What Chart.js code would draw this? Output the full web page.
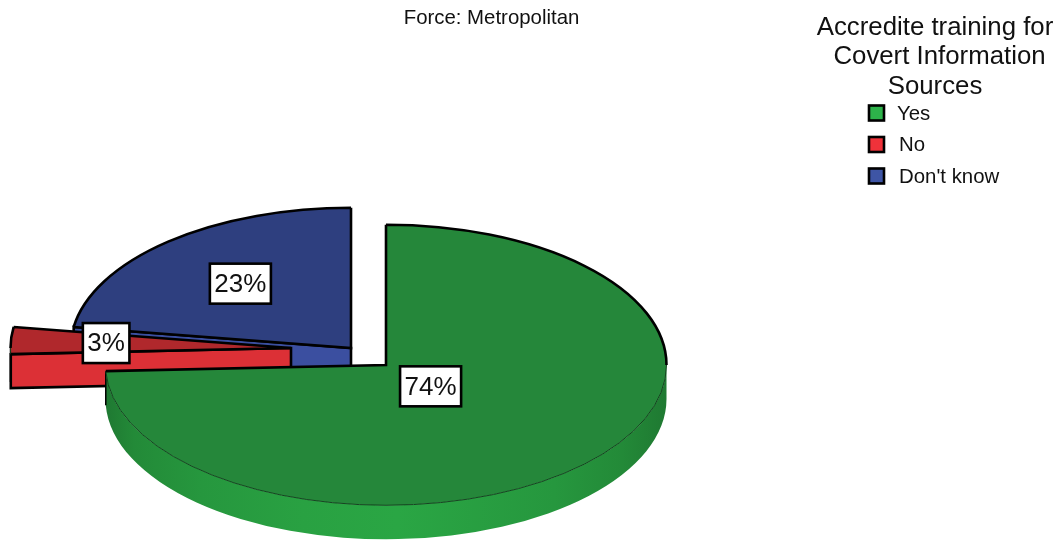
<!DOCTYPE html>
<html>
<head>
<meta charset="utf-8">
<title>Force: Metropolitan</title>
<script src="https://cdn.jsdelivr.net/npm/chart.js@4/dist/chart.umd.min.js"></script>
<style>
  html, body { margin: 0; padding: 0; background: #fff; }
  canvas { display: block; }
</style>
</head>
<body>
<canvas id="chart" width="1063" height="540"></canvas>
<script>
// values
const categories = ['Yes', 'No', "Don't know"];
const shares = [74.3, 3.1, 22.6];
const chartTitle = 'Force: Metropolitan';
const legendTitle = ['Accredite training for', 'Covert Information', 'Sources'];

// colours per slice
const legendColors = ['#2db34a', '#f0323a', '#3e55a5'];
const topColors = ['#25873a', '#b0282c', '#2e3f7f'];
const wallColors = ['#2aa644', '#dc3036', '#3b4fa0'];

// shading of the rim, left to right: [position, darkening of the wall colour]
const rimShade = [[0, 0.27], [0.05, 0.17], [0.17, 0.09], [0.35, 0.03], [0.52, 0], [0.8, 0.09], [0.92, 0.17], [1, 0.27]];

// how the slices are pulled apart and where the labels sit along the slice
const explodeX = [0, -95, -35];
const explodeY = [0, -17, -17];
const labelReach = [0.22, 0.66, 0.605];
const squash = 0.5;
const depth = 34;

const FONT = '"Liberation Sans", Arial, sans-serif';

function point(c, r, a) {
  return { x: c.x + r * Math.cos(a), y: c.y + r * squash * Math.sin(a) };
}

function darken(hex, amount) {
  const n = parseInt(hex.slice(1), 16);
  const f = 1 - amount;
  return 'rgb(' + Math.round((n >> 16) * f) + ',' + Math.round(((n >> 8) & 255) * f) + ',' + Math.round((n & 255) * f) + ')';
}

function drawSlice(ctx, arc, i) {
  const c = { x: arc.x + explodeX[i], y: arc.y + explodeY[i] };
  const r = arc.outerRadius;
  const a0 = arc.startAngle;
  const a1 = arc.endAngle;
  const p0 = point(c, r, a0);
  const p1 = point(c, r, a1);

  // outer wall, only the part below the horizontal axis shows
  const w0 = Math.max(a0, 0);
  const w1 = Math.min(a1, Math.PI);
  if (w1 > w0) {
    const left = point(c, r, w1).x;
    const right = point(c, r, w0).x;
    const g = ctx.createLinearGradient(left, 0, right, 0);
    rimShade.forEach(function (s) {
      g.addColorStop(s[0], darken(wallColors[i], s[1]));
    });
    ctx.beginPath();
    ctx.ellipse(c.x, c.y, r, r * squash, 0, w0, w1);
    ctx.ellipse(c.x, c.y + depth, r, r * squash, 0, w1, w0, true);
    ctx.closePath();
    ctx.fillStyle = g;
    ctx.fill();
    ctx.beginPath();
    const e = point(c, r, w1);
    ctx.moveTo(e.x, e.y);
    ctx.lineTo(e.x, e.y + depth);
    ctx.lineWidth = 1.5;
    ctx.strokeStyle = '#000';
    ctx.stroke();
  }

  // cut faces that look towards the viewer
  const cuts = [];
  if (-Math.cos(a0) > 0.01) cuts.push(p0);
  if (Math.cos(a1) > 0.01) cuts.push(p1);
  cuts.forEach(function (p) {
    ctx.beginPath();
    ctx.moveTo(c.x, c.y);
    ctx.lineTo(p.x, p.y);
    ctx.lineTo(p.x, p.y + depth);
    ctx.lineTo(c.x, c.y + depth);
    ctx.closePath();
    ctx.fillStyle = wallColors[i];
    ctx.fill();
    ctx.lineWidth = 2.6;
    ctx.lineJoin = 'miter';
    ctx.strokeStyle = '#000';
    ctx.stroke();
  });

  // top face
  ctx.beginPath();
  ctx.moveTo(c.x, c.y);
  ctx.ellipse(c.x, c.y, r, r * squash, 0, a0, a1);
  ctx.closePath();
  ctx.fillStyle = topColors[i];
  ctx.fill();

  // thin line on the front half of the rim
  if (w1 > w0) {
    ctx.beginPath();
    ctx.ellipse(c.x, c.y, r, r * squash, 0, w0, w1);
    ctx.lineWidth = 1;
    ctx.strokeStyle = '#14431f';
    ctx.stroke();
  }

  // thick outline on the cuts and the back half of the rim
  ctx.beginPath();
  ctx.moveTo(p1.x, p1.y);
  ctx.lineTo(c.x, c.y);
  ctx.lineTo(p0.x, p0.y);
  const back = [[Math.max(a0, -Math.PI), Math.min(a1, 0)], [Math.max(a0, Math.PI), Math.min(a1, 2 * Math.PI)]];
  back.forEach(function (b) {
    if (b[1] > b[0]) {
      const s = point(c, r, b[0]);
      ctx.moveTo(s.x, s.y);
      ctx.ellipse(c.x, c.y, r, r * squash, 0, b[0], b[1]);
    }
  });
  ctx.lineWidth = 2.6;
  ctx.lineJoin = 'miter';
  ctx.strokeStyle = '#000';
  ctx.stroke();
}

function drawLabel(ctx, arc, i) {
  const c = { x: arc.x + explodeX[i], y: arc.y + explodeY[i] };
  const mid = (arc.startAngle + arc.endAngle) / 2;
  const p = point(c, arc.outerRadius * labelReach[i], mid);
  const text = Math.round(shares[i]) + '%';
  ctx.font = '26px ' + FONT;
  const w = ctx.measureText(text).width + 9;
  const h = 40;
  ctx.fillStyle = '#fff';
  ctx.fillRect(p.x - w / 2, p.y - h / 2, w, h);
  ctx.lineWidth = 2.6;
  ctx.strokeStyle = '#000';
  ctx.strokeRect(p.x - w / 2, p.y - h / 2, w, h);
  ctx.fillStyle = '#111';
  ctx.textAlign = 'center';
  ctx.textBaseline = 'middle';
  ctx.fillText(text, p.x, p.y + 1);
}

function drawTexts(ctx) {
  ctx.fillStyle = '#111';
  ctx.textAlign = 'center';
  ctx.textBaseline = 'middle';
  ctx.font = '20.4px ' + FONT;
  ctx.fillText(chartTitle, 491.5, 18);

  ctx.font = '25.8px ' + FONT;
  legendTitle.forEach(function (line, k) {
    // the middle line sits a little right of the others in the reference
    ctx.fillText(line, k === 1 ? 939.5 : 935, 27.5 + k * 29.5);
  });

  ctx.font = '20.4px ' + FONT;
  ctx.textAlign = 'left';
  categories.forEach(function (name, k) {
    const y = 113 + k * 31.5;
    ctx.fillStyle = legendColors[k];
    ctx.fillRect(869, y - 7.5, 15, 15);
    ctx.lineWidth = 2.6;
    ctx.strokeStyle = '#000';
    ctx.strokeRect(869, y - 7.5, 15, 15);
    ctx.fillStyle = '#111';
    ctx.fillText(name, k === 0 ? 897 : 899, y + 1);
  });
}

const pie3d = {
  id: 'pie3d',
  beforeDatasetDraw: function (chart) {
    const ctx = chart.ctx;
    const arcs = chart.getDatasetMeta(0).data;
    ctx.save();
    // back slices first so the big one sits on top
    [2, 1, 0].forEach(function (i) { drawSlice(ctx, arcs[i], i); });
    [2, 1, 0].forEach(function (i) { drawLabel(ctx, arcs[i], i); });
    drawTexts(ctx);
    ctx.restore();
    return false;
  }
};

new Chart(document.getElementById('chart').getContext('2d'), {
  type: 'pie',
  data: {
    labels: categories,
    datasets: [{ data: shares, backgroundColor: legendColors }]
  },
  options: {
    responsive: false,
    animation: false,
    radius: 280.5,
    layout: { padding: { left: 0, right: 291, top: 190, bottom: 0 } },
    plugins: { legend: { display: false }, tooltip: { enabled: false } }
  },
  plugins: [pie3d]
});
</script>
</body>
</html>
